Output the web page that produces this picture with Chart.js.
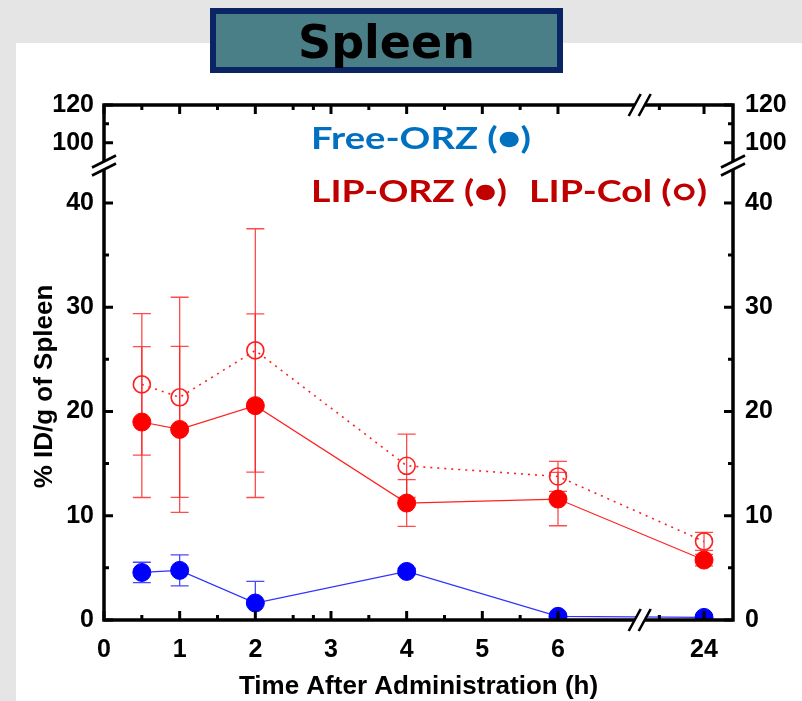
<!DOCTYPE html>
<html><head><meta charset="utf-8">
<script src="https://cdn.jsdelivr.net/npm/chart.js@4.4.1/dist/chart.umd.min.js"></script>
<style>html,body{margin:0;padding:0;background:#e5e5e5;} canvas{display:block;}</style>
</head><body>
<canvas id="c" width="802" height="701"></canvas>
<script>
// ---- data ----
const timesH = [0.5, 1, 2, 4, 6, 24];
const freeORZ    = [4.56, 4.76, 1.63, 4.66, 0.35, 0.25];
const freeORZErr = [0.98, 1.49, 2.07, 0.30, 0.20, 0.20];
const lipORZ     = [18.99, 18.28, 20.56, 11.22, 11.60, 5.75];
const lipORZErr  = [7.24, 7.96, 8.81, 2.24, 2.56, 0.55];
const lipCol     = [22.60, 21.36, 25.86, 14.79, 13.77, 7.54];
const lipColErr  = [6.78, 9.60, 11.67, 3.04, 1.44, 0.86];
const xTickHours  = [0, 1, 2, 3, 4, 5, 6, 24];
const xTickLabels = ['0','1','2','3','4','5','6','24'];
const xMinorHours = [0.5, 1.5, 2.5, 3.5, 4.5, 5.5, 6.5, 22];
const yTickValues = [0, 10, 20, 30, 40, 100, 120];
const yTickLabels = ['0','10','20','30','40','100','120'];
const yMinorValues = [5, 15, 25, 35, 110];

// ---- broken-axis mappings ----
const X_BREAK = 7.08, X_MAX = 8.313;
const Y_BREAK = 43.6, Y_MAX = 49.4;
function xPos(t){ return t <= 6 ? t : 7.93 + (t - 24) * 0.295; }
function yPos(v){ return v <= 40 ? v : 45.79 + (v - 100) * 0.1805; }

const FONT = '"Liberation Sans", Arial, sans-serif';
Chart.defaults.font.family = FONT;

const pts = vals => timesH.map((t, i) => ({x: xPos(t), y: yPos(vals[i])}));

function drawErr(chart, vals, errs, color){
  const ctx = chart.ctx, xs = chart.scales.x, ys = chart.scales.y;
  ctx.strokeStyle = color; ctx.lineWidth = 1.3;
  timesH.forEach((t, i) => {
    const px = xs.getPixelForValue(xPos(t));
    const yt = ys.getPixelForValue(yPos(vals[i] + errs[i]));
    const yb = ys.getPixelForValue(yPos(vals[i] - errs[i]));
    ctx.beginPath();
    ctx.moveTo(px, yt); ctx.lineTo(px, yb);
    ctx.moveTo(px - 9, yt); ctx.lineTo(px + 9, yt);
    ctx.moveTo(px - 9, yb); ctx.lineTo(px + 9, yb);
    ctx.stroke();
  });
}

function fitText(ctx, text, x, base, width, font, color){
  ctx.save();
  ctx.font = font;
  const w = ctx.measureText(text).width;
  ctx.translate(x, base);
  ctx.scale(width / w, 1);
  ctx.fillStyle = color; ctx.textAlign = 'left'; ctx.textBaseline = 'alphabetic';
  ctx.fillText(text, 0, 0);
  ctx.restore();
}

const decor = {
  id: 'decor',
  beforeDraw(chart){
    const ctx = chart.ctx;
    ctx.save();
    ctx.fillStyle = '#e5e5e5'; ctx.fillRect(0, 0, 802, 701);
    ctx.fillStyle = '#ffffff'; ctx.fillRect(16, 43, 786, 658);
    // title box
    ctx.fillStyle = '#0b2463'; ctx.fillRect(210, 8, 353, 65);
    ctx.fillStyle = '#4a7f87'; ctx.fillRect(216, 14, 341, 53);
    ctx.fillStyle = '#000'; ctx.font = 'bold 46px "DejaVu Sans"';
    ctx.textAlign = 'center'; ctx.textBaseline = 'alphabetic';
    ctx.fillText('Spleen', 386.5, 58);
    ctx.restore();
  },
  beforeDatasetsDraw(chart){
    const ctx = chart.ctx, a = chart.chartArea;
    ctx.save();
    ctx.beginPath(); ctx.rect(a.left, a.top, a.right - a.left, a.bottom - a.top); ctx.clip();
    drawErr(chart, lipCol, lipColErr, 'rgba(255,30,30,0.8)');
    drawErr(chart, lipORZ, lipORZErr, 'rgba(255,30,30,0.8)');
    drawErr(chart, freeORZ, freeORZErr, 'rgba(40,40,255,0.85)');
    ctx.restore();
  },
  afterDatasetsDraw(chart){
    const ctx = chart.ctx, a = chart.chartArea, xs = chart.scales.x, ys = chart.scales.y;
    ctx.save();
    ctx.strokeStyle = '#000'; ctx.lineCap = 'butt';
    // ticks
    ctx.lineWidth = 3;
    ctx.beginPath();
    const xt = (h, len) => { const p = xs.getPixelForValue(xPos(h));
      ctx.moveTo(p, a.bottom); ctx.lineTo(p, a.bottom - len);
      ctx.moveTo(p, a.top); ctx.lineTo(p, a.top + len); };
    xTickHours.forEach(h => xt(h, 9));
    xMinorHours.forEach(h => xt(h, 5));
    const yt = (v, len) => { const p = ys.getPixelForValue(yPos(v));
      ctx.moveTo(a.left, p); ctx.lineTo(a.left + len, p);
      ctx.moveTo(a.right, p); ctx.lineTo(a.right - len, p); };
    yTickValues.forEach(v => yt(v, 9));
    yMinorValues.forEach(v => yt(v, 5));
    ctx.stroke();
    // frame
    ctx.lineWidth = 3.5;
    ctx.strokeRect(a.left, a.top, a.right - a.left, a.bottom - a.top);
    // breaks
    ctx.lineWidth = 2.6;
    const yb = ys.getPixelForValue(Y_BREAK);
    [a.left, a.right].forEach(ax => {
      ctx.fillStyle = '#fff';
      ctx.beginPath();
      ctx.moveTo(ax - 12, yb + 10); ctx.lineTo(ax + 12, yb - 2);
      ctx.lineTo(ax + 12, yb - 10); ctx.lineTo(ax - 12, yb + 2); ctx.closePath(); ctx.fill();
      ctx.beginPath();
      ctx.moveTo(ax - 12, yb + 10); ctx.lineTo(ax + 12, yb - 2);
      ctx.moveTo(ax - 12, yb + 2); ctx.lineTo(ax + 12, yb - 10);
      ctx.stroke();
    });
    const xb = xs.getPixelForValue(X_BREAK);
    [a.top, a.bottom].forEach(ay => {
      ctx.fillStyle = '#fff';
      ctx.beginPath();
      ctx.moveTo(xb - 11, ay + 11); ctx.lineTo(xb + 1, ay - 11);
      ctx.lineTo(xb + 11, ay - 11); ctx.lineTo(xb - 1, ay + 11); ctx.closePath(); ctx.fill();
      ctx.beginPath();
      ctx.moveTo(xb - 11, ay + 11); ctx.lineTo(xb + 1, ay - 11);
      ctx.moveTo(xb - 1, ay + 11); ctx.lineTo(xb + 11, ay - 11);
      ctx.stroke();
    });
    ctx.restore();
    // legend text
    fitText(ctx, 'Free-ORZ (\u25CF)', 311, 149, 220, 'bold 31px Lato', '#0070c0');
    fitText(ctx, 'LIP-ORZ (\u25CF)', 311, 202, 196, 'bold 31px Lato', '#c00000');
    fitText(ctx, 'LIP-Col (\u25CB)', 529, 202, 178, 'bold 31px Lato', '#c00000');
    // y title
    ctx.save();
    ctx.translate(52, 386.5); ctx.rotate(-Math.PI / 2);
    ctx.font = 'bold 26px ' + FONT; ctx.fillStyle = '#000';
    ctx.textAlign = 'center'; ctx.textBaseline = 'alphabetic';
    ctx.fillText('% ID/g of Spleen', 0, 0);
    ctx.restore();
  }
};

const tickFont = {size: 25, weight: 'bold'};
const yCommon = {
  type: 'linear', min: 0, max: Y_MAX, display: true,
  afterBuildTicks: s => { s.ticks = yTickValues.map(v => ({value: yPos(v)})); },
  grid: {display: false, drawTicks: false}, border: {display: false}
};

new Chart(document.getElementById('c'), {
  type: 'line',
  data: {
    datasets: [
      {label: 'Free-ORZ', data: pts(freeORZ), borderColor: '#3030ff', borderWidth: 1.2,
       pointRadius: 9, pointBackgroundColor: '#0000ff', pointBorderColor: '#0000ff', pointBorderWidth: 1},
      {label: 'LIP-ORZ', data: pts(lipORZ), borderColor: '#ff2020', borderWidth: 1.2,
       pointRadius: 9, pointBackgroundColor: '#ff0000', pointBorderColor: '#ff0000', pointBorderWidth: 1},
      {label: 'LIP-Col', data: pts(lipCol), borderColor: '#ff2020', borderWidth: 1.6, borderDash: [2, 5],
       pointRadius: 8.5, pointBackgroundColor: 'rgba(0,0,0,0)', pointBorderColor: '#ff2020', pointBorderWidth: 1.6}
    ]
  },
  options: {
    responsive: false, animation: false, devicePixelRatio: 1,
    layout: {padding: {top: 105, left: 0, right: 0, bottom: 0}},
    plugins: {legend: {display: false}, tooltip: {enabled: false}},
    scales: {
      x: {
        type: 'linear', min: 0, max: X_MAX, position: 'bottom',
        afterBuildTicks: s => { s.ticks = xTickHours.map(h => ({value: xPos(h)})); },
        afterFit: s => { s.height = 81; },
        ticks: {autoSkip: false, maxRotation: 0, padding: 15, color: '#000', font: tickFont,
                callback: (v, i) => xTickLabels[i]},
        grid: {display: false, drawTicks: false}, border: {display: false},
        title: {display: true, text: 'Time After Administration (h)', color: '#000',
                font: {size: 26, weight: 'bold', lineHeight: 1}, padding: {top: 0, bottom: 1}}
      },
      y: Object.assign({}, yCommon, {
        position: 'left',
        afterFit: s => { s.width = 104; },
        ticks: {autoSkip: false, padding: 10, color: '#000', font: tickFont, callback: (v, i) => yTickLabels[i]}
      }),
      y2: Object.assign({}, yCommon, {
        position: 'right',
        afterFit: s => { s.width = 69; },
        ticks: {autoSkip: false, padding: 12, color: '#000', font: tickFont, callback: (v, i) => yTickLabels[i]}
      })
    }
  },
  plugins: [decor]
});
</script>
</body></html>
